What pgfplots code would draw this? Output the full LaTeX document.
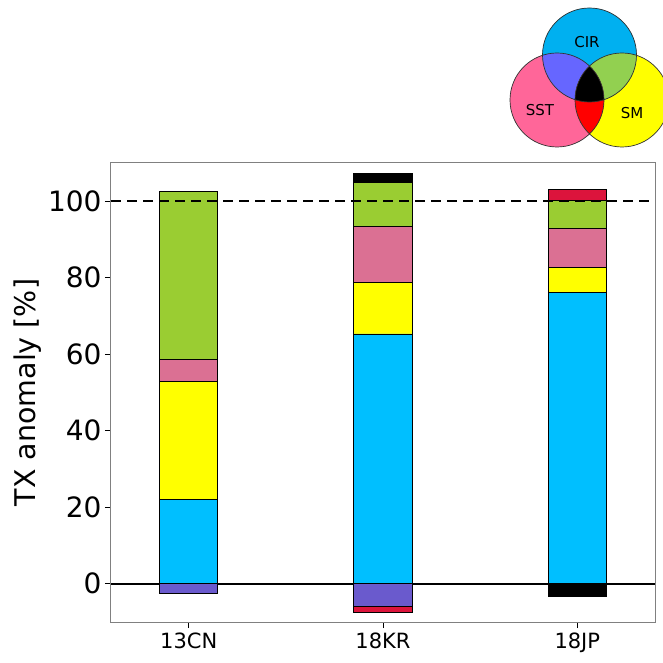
\documentclass[border=0pt]{standalone}
\usepackage{pgfplots}
\pgfplotsset{compat=1.18}
\usepackage{fontspec}
\setmainfont{DejaVu Sans}
\definecolor{cirb}{RGB}{0,191,255}
\definecolor{smy}{RGB}{255,255,0}
\definecolor{sstp}{RGB}{219,112,147}
\definecolor{grn}{RGB}{154,205,50}
\definecolor{prp}{RGB}{106,90,205}
\definecolor{crm}{RGB}{220,20,60}
\definecolor{vcir}{RGB}{0,176,240}
\definecolor{vsst}{RGB}{255,102,153}
\definecolor{vsm}{RGB}{255,255,0}
\definecolor{vcs}{RGB}{102,102,255}
\definecolor{vcm}{RGB}{146,208,80}
\definecolor{vsm2}{RGB}{255,0,0}
\pgfplotsset{
  common/.style={
    at={(0pt,0pt)}, anchor=south west,
    width=544pt, height=459pt, scale only axis,
    xmin=-0.4, xmax=2.4, ymin=-10, ymax=110,
    ybar stacked, bar width=0.3,
  },
  barsty/.style={draw=black, line width=0.9pt, fill=#1},
}
\begin{document}
\begin{tikzpicture}
\useasboundingbox (-111pt,-41pt) rectangle (552pt,622pt);
\begin{axis}[common,
  xtick={0,1,2}, xticklabels={13CN,18KR,18JP},
  ytick={0,20,40,60,80,100},
  tick pos=left, tick align=outside, major tick length=6pt,
  axis line style={draw=gray, line width=1pt},
  tick style={black, line width=1pt},
  /pgf/number format/assume math mode=true,
  yticklabel style={font=\fontsize{28}{32}\selectfont},
  xticklabel style={font=\fontsize{21}{25}\selectfont, yshift=-1pt},
  ylabel={TX anomaly [\%]},
  ylabel style={font=\fontsize{28.5}{33}\selectfont, at={(axis description cs:0,0.5)}, anchor=center, yshift=83pt},
]
\addplot[barsty=cirb] coordinates {(0,22) (1,65.3) (2,76.1)};
\addplot[barsty=smy] coordinates {(0,31) (1,13.4) (2,6.7)};
\addplot[barsty=sstp] coordinates {(0,5.7) (1,14.6) (2,10.2)};
\addplot[barsty=grn] coordinates {(0,43.9) (1,11.5) (2,7.2)};
\addplot[barsty=black] coordinates {(0,0) (1,2.4) (2,0)};
\addplot[barsty=crm] coordinates {(0,0) (1,0) (2,2.8)};
\end{axis}
\begin{axis}[common, hide axis]
\addplot[barsty=prp] coordinates {(0,-2.6) (1,-5.9) (2,0)};
\addplot[barsty=crm] coordinates {(0,0) (1,-1.5) (2,0)};
\addplot[barsty=black] coordinates {(0,0) (1,0) (2,-3.2)};
\addplot[sharp plot, stack plots=false, black, line width=2pt, no marks] coordinates {(-0.4,0) (2.4,0)};
\addplot[sharp plot, stack plots=false, black, line width=2.5pt, dash pattern=on 10pt off 6pt, no marks] coordinates {(-0.4,100) (2.4,100)};
\end{axis}
% Venn legend
\coordinate (C) at (478.5pt,567pt);
\coordinate (S) at (446pt,522pt);
\coordinate (M) at (511pt,522pt);
\fill[vcir] (C) circle (47pt);
\fill[vsst] (S) circle (47pt);
\fill[vsm] (M) circle (47pt);
\fill[vcir] (C) circle (47pt);
\begin{scope}\clip (C) circle (47pt); \fill[vcs] (S) circle (47pt); \end{scope}
\begin{scope}\clip (C) circle (47pt); \fill[vcm] (M) circle (47pt); \end{scope}
\begin{scope}\clip (S) circle (47pt); \fill[vsm2] (M) circle (47pt); \end{scope}
\begin{scope}\clip (C) circle (47pt); \clip (S) circle (47pt); \fill[black] (M) circle (47pt); \end{scope}
\draw[black!80, line width=0.7pt] (C) circle (47pt) (S) circle (47pt) (M) circle (47pt);
\node[font=\fontsize{15}{18}\selectfont] at (476pt,580pt) {CIR};
\node[font=\fontsize{15}{18}\selectfont] at (429pt,512pt) {SST};
\node[font=\fontsize{15}{18}\selectfont] at (521pt,509pt) {SM};
\end{tikzpicture}
\end{document}
